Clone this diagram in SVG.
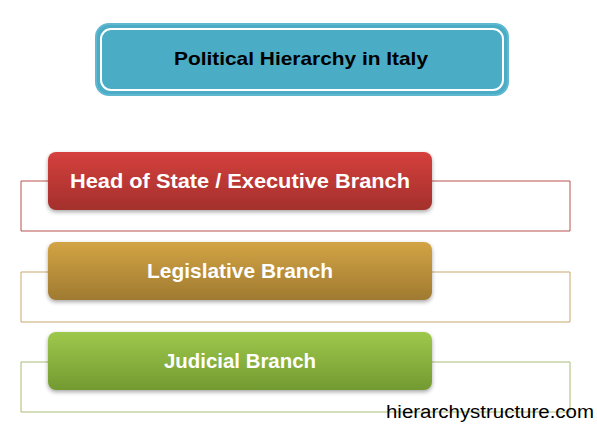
<svg xmlns="http://www.w3.org/2000/svg" width="597" height="429" viewBox="0 0 597 429">
<style>
.lbl{font-family:"Liberation Sans","Noto Sans",sans-serif;font-weight:bold;font-size:21px;fill:#ffffff;text-anchor:middle}
.ttl{font-family:"Liberation Sans","Noto Sans",sans-serif;font-weight:bold;font-size:19px;fill:#000000;text-anchor:middle}
.wm{font-family:"Liberation Sans",Arial,sans-serif;font-size:18px;fill:#000000}
.br{fill:none;stroke-width:1}
</style>
<defs>
<linearGradient id="gR" x1="0" y1="0" x2="0" y2="1"><stop offset="0" stop-color="#d5403d"/><stop offset="1" stop-color="#a3302c"/></linearGradient>
<linearGradient id="gG" x1="0" y1="0" x2="0" y2="1"><stop offset="0" stop-color="#d3a445"/><stop offset="1" stop-color="#9f7a30"/></linearGradient>
<linearGradient id="gV" x1="0" y1="0" x2="0" y2="1"><stop offset="0" stop-color="#9ec84c"/><stop offset="1" stop-color="#729a31"/></linearGradient>
<filter id="sh" x="-5%" y="-20%" width="110%" height="150%"><feDropShadow dx="0" dy="2" stdDeviation="2" flood-color="#000" flood-opacity="0.35"/></filter>
</defs>
<g id="connectors">
<path class="br" stroke="#b8524e" d="M48 181 H21 V231 H570 V181 H432"/>
<path class="br" stroke="#c9a86c" d="M48 272 H21 V322 H570 V272 H432"/>
<path class="br" stroke="#aabb74" d="M48 362 H21 V412 H570 V362 H432"/>
</g>
<g id="title">
<rect x="96" y="24" width="412" height="71" rx="13" fill="#4bacc6" stroke="#5fb8d0" stroke-width="2"/>
<rect x="101" y="29" width="402" height="61" rx="10" fill="none" stroke="#ffffff" stroke-width="2"/>
<text class="ttl" x="301" y="65" textLength="254" lengthAdjust="spacingAndGlyphs">Political Hierarchy in Italy</text>
</g>
<g id="executive">
<rect x="48" y="152" width="384" height="58" rx="8" fill="url(#gR)" filter="url(#sh)"/>
<text class="lbl" x="240" y="188" textLength="340" lengthAdjust="spacingAndGlyphs">Head of State / Executive Branch</text>
</g>
<g id="legislative">
<rect x="48" y="242" width="384" height="58" rx="8" fill="url(#gG)" filter="url(#sh)"/>
<text class="lbl" x="240" y="278" textLength="186" lengthAdjust="spacingAndGlyphs">Legislative Branch</text>
</g>
<g id="judicial">
<rect x="48" y="332" width="384" height="58" rx="8" fill="url(#gV)" filter="url(#sh)"/>
<text class="lbl" x="240" y="368" textLength="152" lengthAdjust="spacingAndGlyphs">Judicial Branch</text>
</g>
<text class="wm" x="386" y="418" textLength="208" lengthAdjust="spacingAndGlyphs">hierarchystructure.com</text>
</svg>
